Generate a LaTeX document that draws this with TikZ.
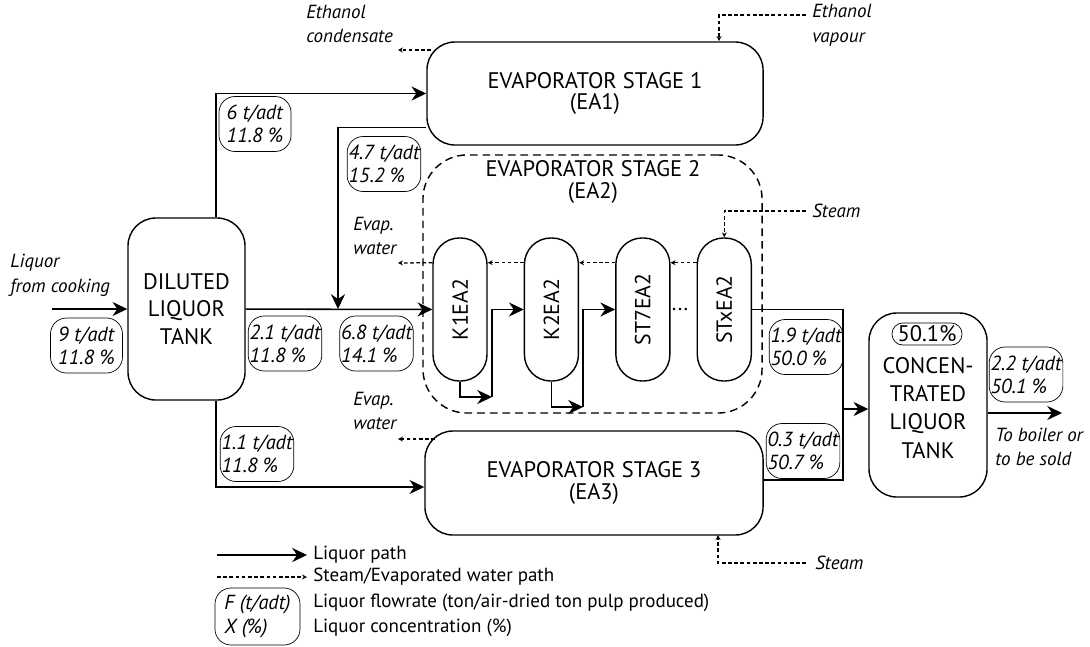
\documentclass[tikz,border=0pt]{standalone}
\usepackage{fontspec}
\setmainfont{PT Sans}
\usepackage{graphicx}
\usetikzlibrary{arrows.meta, positioning, shapes}

\begin{document}
\begin{tikzpicture}[x=0.025cm, y=-0.025cm, node distance=0.9cm]
\tikzstyle{tank} = [rectangle, draw, line width=1pt, rounded corners=0.7cm, align=center,
    font=\fontsize{16}{15}\selectfont]
\tikzstyle{vessel} = [rectangle, draw, line width=1pt, rounded corners=0.66cm, inner sep=0pt,
    minimum width=1.35cm, minimum height=3.575cm, font=\fontsize{15.5}{15}\selectfont]
\tikzstyle{stage} = [rectangle, draw, line width=1pt, dash pattern=on 5.5pt off 3.5pt,
    rounded corners=1.1cm, minimum width=8.475cm, minimum height=6.45cm]
\tikzstyle{flow} = [rectangle, draw, line width=0.5pt, rounded corners=0.4cm, align=left,
    inner sep=1pt, minimum width=1.8cm, minimum height=1.375cm, font=\itshape\fontsize{14.5}{16.5}\selectfont]
\tikzstyle{note} = [align=left, anchor=west, inner sep=0pt, font=\itshape\fontsize{13.5}{17.5}\selectfont]
\tikzstyle{legend} = [anchor=west, inner sep=0pt, font=\fontsize{13.5}{15}\selectfont]
\tikzstyle{line} = [draw, line width=1.1pt, -{Stealth[length=10.5pt, width=10pt]}]
\tikzstyle{vapour} = [draw, line width=0.9pt, dash pattern=on 2.6pt off 1.8pt,
    -{Stealth[length=3.5pt, width=3.5pt]}]
    \useasboundingbox (0,0) rectangle (1090,646);

    % Place nodes
    \node [tank, minimum width=2.925cm, minimum height=4.55cm, font=\fontsize{16}{19.5}\selectfont]
        (dlt) at (186.5,309) {DILUTED\\LIQUOR\\TANK};
    \node [tank, minimum width=8.4cm, minimum height=2.575cm] (ea1) at (595,93.5) {EVAPORATOR STAGE 1\\(EA1)};
    \node [stage] (ea2) at (592.5,284) {};
    \node [align=center, font=\fontsize{16}{15}\selectfont] (ea2title) at (593,182) {EVAPORATOR STAGE 2\\(EA2)};
    \node [tank, minimum width=8.45cm, minimum height=2.6cm] (ea3) at (594,483) {EVAPORATOR STAGE 3\\(EA3)};
    \node [tank, minimum width=2.95cm, minimum height=4.6cm] (clt) at (928,405) {};
    \node [draw, line width=0.5pt, rounded corners=0.27cm, minimum width=1.75cm, minimum height=0.55cm,
        inner sep=0pt, font=\fontsize{16}{15}\selectfont] (cltpct) at (927,334) {50.1\%};
    \node [align=center, font=\fontsize{16}{20}\selectfont] (clttext) at (928,408) {CONCEN-\\TRATED\\LIQUOR\\TANK};

    \node [vessel] (k1) at (460,309.5) {\rotatebox{90}{K1EA2}};
    \node [vessel, right=of k1] (k2) {\rotatebox{90}{K2EA2}};
    \node [vessel, right=of k2] (st7) {\rotatebox{90}{ST7EA2}};
    \node [vessel, right=0.65cm of st7] (stx) {\rotatebox{90}{STxEA2}};
    \node [anchor=base, font=\fontsize{15}{15}\selectfont] (dots) at (680,310) {...};

    % flow labels
    \node [flow] (fin) at (86.5,345.5) {9 t/adt\\11.8 \%};
    \node [flow] (fea1) at (255,124) {6 t/adt\\11.8 \%};
    \node [flow] (fout1) at (384,164) {4.7 t/adt\\15.2 \%};
    \node [flow] (fmain) at (285,343.5) {2.1 t/adt\\11.8 \%};
    \node [flow] (fea2) at (376.5,343.5) {6.8 t/adt\\14.1 \%};
    \node [flow] (fea3) at (257,454) {1.1 t/adt\\11.8 \%};
    \node [flow] (fout2) at (806,347) {1.9 t/adt\\50.0 \%};
    \node [flow] (fout3) at (803,451) {0.3 t/adt\\50.7 \%};
    \node [flow] (fprod) at (1026,374.5) {2.2 t/adt\\50.1 \%};

    % notes
    \node [note] (condtxt) at (306,24) {Ethanol\\condensate};
    \node [note] (vaptxt) at (812,25) {Ethanol\\vapour};
    \node [note] (steamtxt) at (812,211) {Steam};
    \node [note] (steam3txt) at (815,563) {Steam};
    \node [note] (evw1txt) at (353,236) {Evap.\\water};
    \node [note] (evw3txt) at (353,411) {Evap.\\water};
    \node [note] (feedtxt) at (10,275) {Liquor\\from cooking};
    \node [note] (prodtxt) at (995,447) {To boiler or\\to be sold};

    % legend
    \node [flow, minimum width=2.125cm, minimum height=1.425cm] (lgbox) at (257.5,616.5) {F (t/adt)\\X (\%)};
    \node [legend] (lgtxt1) at (313,555) {Liquor path};
    \node [legend] (lgtxt2) at (313,577) {Steam/Evaporated water path};
    \node [legend] (lgtxt3) at (313,603) {Liquor flowrate (ton/air-dried ton pulp produced)};
    \node [legend] (lgtxt4) at (313,628) {Liquor concentration (\%)};

    % coordinates
    \coordinate (infeed) at (52,309);
    \coordinate (junc) at (338,309);
    \coordinate (c1) at (492,397);
    \coordinate (c2) at (583,407);
    \coordinate (merge) at (843,409);
    \coordinate (product) at (1062,413);
    \coordinate (condout) at (431,50);
    \coordinate (condend) at (398,50);
    \coordinate (vapstart) at (806,15);
    \coordinate (vapin) at (719,41);
    \coordinate (steamstart) at (806,211);
    \coordinate (evw1) at (398,263);
    \coordinate (evw3in) at (435,439);
    \coordinate (evw3) at (398,439);
    \coordinate (steam3start) at (806,563);
    \coordinate (steam3in) at (718,535);
    \coordinate (lg1a) at (217,555);
    \coordinate (lg1b) at (307,555);
    \coordinate (lg2a) at (217,577);
    \coordinate (lg2b) at (307,577);

%paths
    \path [line] (infeed) -- (dlt);
    \path [line] ([xshift=0.74cm]dlt.north) |- (ea1.west);
    \path [line] ([yshift=-0.85cm]ea1.west) -| (junc);
    \path [line] (dlt) -- (k1);
    \path [line] ([xshift=0.74cm]dlt.south) |- ([yshift=-0.1cm]ea3.west);
    \path [line] (k1.south) |- (c1);
    \path [line] (c1) |- (k2.west);
    \path [line] (k2.south) |- (c2);
    \path [line] (c2) |- (st7.west);
    \draw [line width=1.1pt] (stx.east) -| (merge);
    \draw [line width=1.1pt] ([yshift=0.08cm]ea3.east) -| (merge);
    \path [line] (merge) -- (clt.west |- merge);
    \path [line] (clt.east |- product) -- (product);

    \path [vapour] (condout) -- (condend);
    \path [vapour] (vapstart) -| (vapin);
    \path [vapour] (steamstart) -| (stx.north);
    \path [vapour] ([yshift=1.17cm]stx.west) -- ([yshift=1.17cm]st7.east);
    \path [vapour] ([yshift=1.17cm]st7.west) -- ([yshift=1.17cm]k2.east);
    \path [vapour] ([yshift=1.17cm]k2.west) -- ([yshift=1.17cm]k1.east);
    \path [vapour] ([yshift=1.17cm]k1.west) -- (evw1);
    \path [vapour] (evw3in) -- (evw3);
    \path [vapour] (steam3start) -| (steam3in);

    \path [line] (lg1a) -- (lg1b);
    \path [vapour] (lg2a) -- (lg2b);

\end{tikzpicture}
\end{document}
